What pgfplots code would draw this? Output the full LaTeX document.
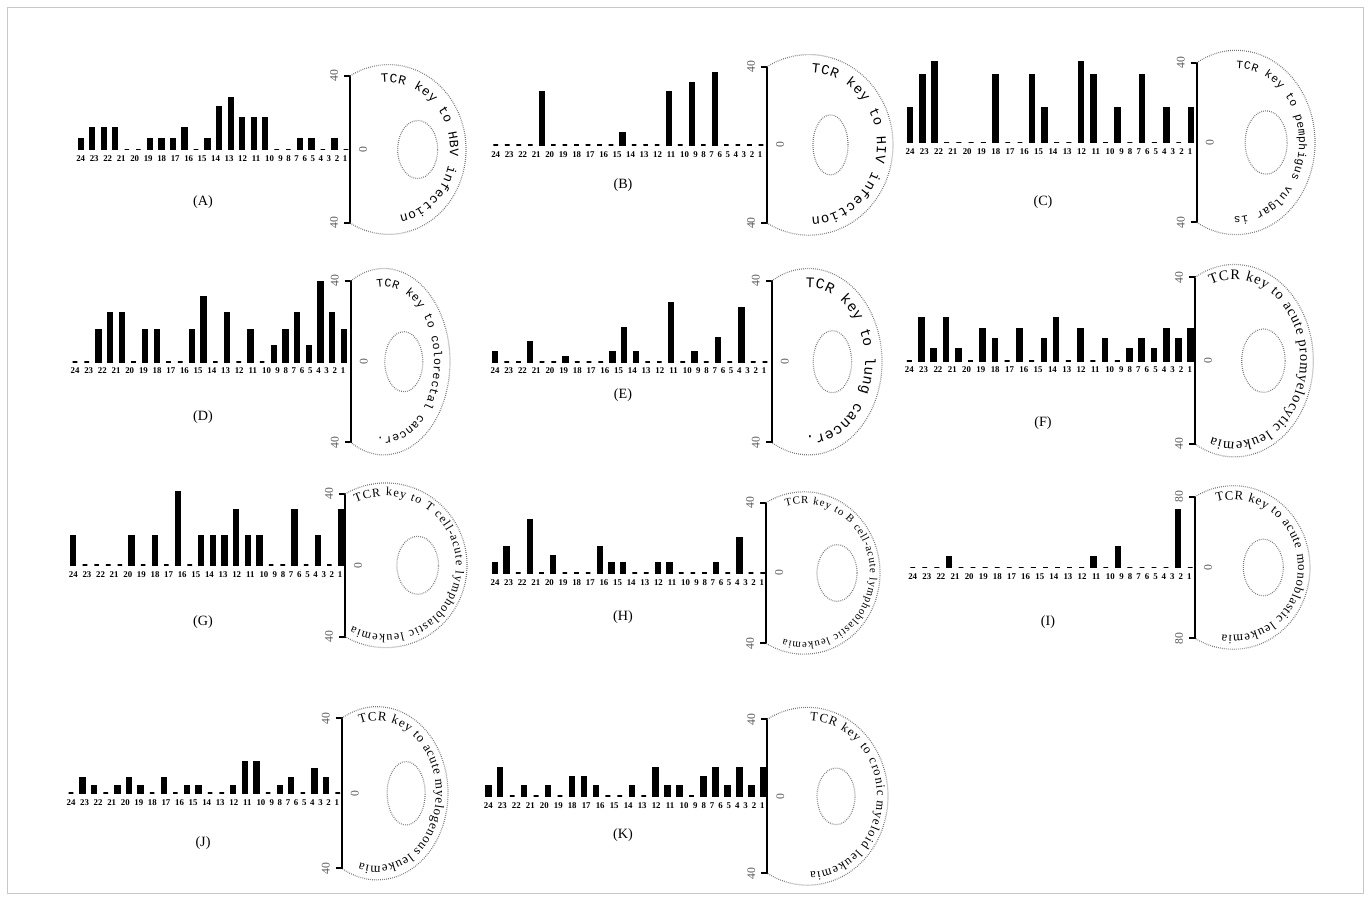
\documentclass[border=0pt]{standalone}
\usepackage{fontspec}
\setmainfont{Liberation Serif}
\setmonofont{Liberation Mono}
\usepackage{pgfplots}
\pgfplotsset{compat=1.18}
\usepackage{pgfplotstable}
\usetikzlibrary{decorations.text}

\pgfplotstableread{
k  A    B   C    D    E    F    G    H   I    J    K
0  6    0   17.6 0    5    0    16.5 6   0    0    5.5
1  12   0   34   0    0    20.5 0    15  0    8.4  14.7
2  12   0   40.5 16   0    5.6  0    0   0    4    0
3  12   0   0    24   10   20.5 0    30  12.3 0    5.5
4  0    27  0    24   0    5.6  0    0   0    4    0
5  0    0   0    0    0    0    16.5 10  0    8.4  5.5
6  6    0   0    16   2.5  15.5 0    0   0    4    0
7  6    0   34   16   0    10.4 16.5 0   0    0    10
8  6    0   0    0    0    0    0    0   0    8.4  10
9  12   0   0    0    0    15.5 41   15  0    0    5.5
10 0    0   34   16   5    0    0    5.5 0    4    0
11 6    6   17.6 32   17   10.4 16.5 5.5 0    4    0
12 23   0   0    0    5    20.5 16.5 0   0    0    5.5
13 28   0   0    24   0    0    16.5 0   0    0    0
14 17.5 0   40.5 0    0    15.5 31   5.5 0    4    14.7
15 17.5 27  34   16   29   0    16.5 5.5 12.3 17   5.5
16 17.5 0   0    0    0    10.4 16.5 0   0    17   5.5
17 0    32  17.6 8    5    0    0    0   23.4 0    0
18 0    0   0    16   0    5.6  0    0   0    4    10
19 6    37  34   24   12   10.4 31   5.5 0    8.4  14.7
20 6    0   0    8    0    5.6  0    0   0    0    5.5
21 0    0   17.6 39.5 26.5 15.5 16.5 20  0    12.8 14.7
22 6    0   0    24   0    10.4 0    0   65.5 8.4  5.5
23 0    0   17.6 16   0    15.5 31   0   0    0    14.7
}\data

\newcommand\pt[2]{({(#1)*0.6pt},{(900-(#2))*0.6pt})}
\newcommand\geom[7]{\def\pxa{#1}\def\pmid{#2}\def\ps{#3}\def\pcz{#4}\def\pcl{#5}\def\pymax{#6}\def\prr{#7}}
\newcommand\keyg[9]{\def\pidx{#1}\def\pirx{#2}\def\piry{#3}\def\pao{#4}\def\pat{#5}\def\pdx{#6}\def\pdy{#7}\def\plx{#8}\def\ply{#9}}
\tikzset{keydot/.style={draw=black!55, line width=0.7pt, dash pattern=on 0.45pt off 0.75pt}}

\newcommand\drawpanel[4]{%
  \pgfmathsetmacro\xu{(\pcl-\pcz)/23}%
  \pgfmathsetmacro\xupt{\xu*0.6}%
  \pgfmathsetmacro\yupt{\ps/\pymax*0.6}%
  \pgfmathsetmacro\xmaxv{(\pxa-\pcz)/\xu}%
  \pgfmathsetmacro\swx{(\pcz-0.5*\xu)*0.6}%
  \pgfmathsetmacro\swy{(900-\pmid-\ps)*0.6}%
  \begin{axis}[at={(\swx pt,\swy pt)}, anchor=south west,
    x=\xupt pt, y=\yupt pt, xmin=-0.5, xmax=\xmaxv, ymin=-\pymax, ymax=\pymax,
    axis y line=none, axis x line=middle, x axis line style={draw=none},
    hide obscured x ticks=false, clip=false,
    xtick={0,1.17,2.34,3.51,4.68,5.85,7.02,8.19,9.36,10.53,11.7,12.87,14.04,15.21,16.38,17.32,18.02,18.72,19.42,20.12,20.82,21.52,22.22,22.92},
    xticklabels={24,23,22,21,20,19,18,17,16,15,14,13,12,11,10,9,8,7,6,5,4,3,2,1},
    major tick length=0pt, xtick style={draw=none},
    xticklabel style={font=\fontsize{5.3}{5.3}\selectfont\bfseries, inner sep=0pt, anchor=north, yshift=-3.6pt},
    ytick=\empty]
  \addplot[ybar, bar width=0.4, fill=black, draw=black, line width=1pt] table[x=k, y=#1]{\data};
  \end{axis}
  % right axis
  \draw[line width=1.1pt] \pt{\pxa-6}{\pmid-\ps} -- \pt{\pxa}{\pmid-\ps} -- \pt{\pxa}{\pmid+\ps} -- \pt{\pxa-6}{\pmid+\ps};
  \node[rotate=90, text=black!65, font=\fontsize{7}{7}\selectfont, inner sep=0pt] at \pt{\pxa-16}{\pmid-\ps} {\pymax};
  \node[rotate=90, text=black!65, font=\fontsize{7}{7}\selectfont, inner sep=0pt] at \pt{\pxa-16}{\pmid+\ps} {\pymax};
  \node[rotate=90, text=black!65, font=\fontsize{7}{7}\selectfont, inner sep=0pt] at \pt{\pxa+13}{\pmid} {0};
  % key
  \pgfmathsetmacro\rxb{(\prr-\pxa)/1.5}%
  \pgfmathsetmacro\ryb{\ps/0.866}%
  \pgfmathsetmacro\cxb{\pxa+0.5*\rxb}%
  \pgfmathsetmacro\rxbpt{\rxb*0.6}%
  \pgfmathsetmacro\rybpt{\ryb*0.6}%
  \draw[keydot] \pt{\pxa}{\pmid-\ps} arc[start angle=120, end angle=-120, x radius=\rxbpt pt, y radius=\rybpt pt];
  \pgfmathsetmacro\irxpt{\pirx*0.6}%
  \pgfmathsetmacro\irypt{\piry*0.6}%
  \draw[keydot] \pt{\cxb+\pidx}{\pmid} ellipse[x radius=\irxpt pt, y radius=\irypt pt];
  \pgfmathsetmacro\rxt{\rxb-\pdx}%
  \pgfmathsetmacro\ryt{\ryb-\pdy}%
  \pgfmathsetmacro\rxtpt{\rxt*0.6}%
  \pgfmathsetmacro\rytpt{\ryt*0.6}%
  \pgfmathsetmacro\tsx{\cxb+\rxt*cos(\pao)}%
  \pgfmathsetmacro\tsy{\pmid-\ryt*sin(\pao)}%
  \path[decorate, decoration={text along path, text align=fit to path, text={|#4|#3}}]
    \pt{\tsx}{\tsy} arc[start angle=\pao, end angle=\pat, x radius=\rxtpt pt, y radius=\rytpt pt];
  \node[font=\fontsize{8.5}{9}\selectfont] at \pt{\plx}{\ply} {(#2)};
}

\begin{document}
\begin{tikzpicture}
\path \pt{0}{0} rectangle \pt{1370}{900};
\draw[black!22, line width=0.5pt] \pt{7}{7} rectangle \pt{1363}{893};

\geom{350}{149.5}{73.5}{80.7}{346}{40}{466}
\keyg{29}{20}{29}{97}{-80}{16}{18}{203}{202}
\drawpanel{A}{A}{TCR key to HBV infection}{\fontsize{7.7}{7.7}\selectfont\ttfamily}

\geom{767}{144.9}{78.2}{495.7}{761}{40}{893}
\keyg{21.5}{17.5}{30}{88}{-88}{16}{18}{623}{185}
\drawpanel{B}{B}{TCR key to HIV infection}{\fontsize{8.3}{8.3}\selectfont\ttfamily}

\geom{1196.7}{142.5}{79.8}{910}{1191}{40}{1315}
\keyg{30}{21}{31.7}{90}{-92}{16}{18}{1043}{202}
\drawpanel{C}{C}{TCR key to pemphigus vulgar is}{\fontsize{6.8}{6.8}\selectfont\ttfamily}

\geom{350.7}{361.7}{80.7}{75}{344}{40}{450}
\keyg{20}{19}{30}{98}{-98}{16}{18}{203}{417}
\drawpanel{D}{D}{TCR key to colorectal cancer.}{\fontsize{7}{7}\selectfont\ttfamily}

\geom{771.7}{361.7}{80.7}{495}{765}{40}{882}
\keyg{24}{19.2}{31}{93}{-93}{17}{19}{623}{395}
\drawpanel{E}{E}{TCR key to lung cancer.}{\fontsize{8.8}{8.8}\selectfont\ttfamily}

\geom{1195}{360.7}{83.3}{909.3}{1190.7}{40}{1313.3}
\keyg{29}{21.7}{31.7}{111}{-110}{13}{15}{1043}{423}
\drawpanel{F}{F}{TCR key to acute promyelocytic leukemia}{\fontsize{8.7}{8.7}\selectfont}

\geom{345}{565.3}{71.3}{73.3}{341}{40}{467}
\keyg{32}{20.8}{29}{115}{-118}{11}{13}{203}{622}
\drawpanel{G}{G}{TCR key to T cell-acute lymphoblastic leukemia}{\fontsize{7.3}{7.3}\selectfont}

\geom{766}{573}{70.3}{495}{762.7}{40}{880}
\keyg{33}{20}{28.3}{106}{-108}{10}{12}{623}{617}
\drawpanel{H}{H}{TCR key to B cell-acute lymphoblastic leukemia}{\fontsize{6.5}{6.5}\selectfont}

\geom{1195}{567.5}{70.8}{912.7}{1190.2}{80}{1310}
\keyg{30}{20}{28.3}{105}{-100}{12}{14}{1048}{622}
\drawpanel{I}{I}{TCR key to acute monoblastic leukemia}{\fontsize{7.7}{7.7}\selectfont}

\geom{341.7}{793.3}{75}{71}{337.7}{40}{448}
\keyg{29}{19}{31.7}{107}{-107}{12}{14}{203}{843}
\drawpanel{J}{J}{TCR key to acute myelogenous leukemia}{\fontsize{7.8}{7.8}\selectfont}

\geom{767.3}{796.3}{77}{488.3}{763.3}{40}{888}
\keyg{28.5}{19}{28.3}{88}{-88}{11}{13}{623}{835}
\drawpanel{K}{K}{TCR key to cronic myeloid leukemia}{\fontsize{7.6}{7.6}\selectfont}
\end{tikzpicture}
\end{document}
